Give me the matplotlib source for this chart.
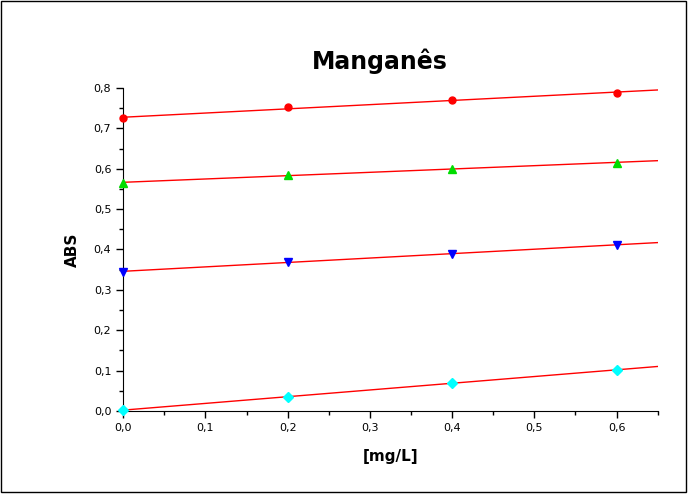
import matplotlib.pyplot as plt
import numpy as np
from matplotlib.ticker import MultipleLocator, FuncFormatter
from matplotlib.patches import Rectangle

# concentration [mg/L]
conc = [0.0, 0.2, 0.4, 0.6]

# absorbance series
abs_red = [0.725, 0.752, 0.771, 0.788]
abs_green = [0.565, 0.585, 0.600, 0.615]
abs_blue = [0.345, 0.370, 0.388, 0.412]
abs_cyan = [0.002, 0.035, 0.068, 0.102]

series = [
    (abs_red, 'red', 'o', 5),
    (abs_green, '#00dd00', '^', 6),
    (abs_blue, 'blue', 'v', 6),
    (abs_cyan, 'cyan', 'D', 5),
]

fig = plt.figure(figsize=(6.88, 4.95), dpi=100)
ax = fig.add_axes([0.179, 0.170, 0.777, 0.652])

xfit = np.array([0.0, 0.65])
x = np.array(conc)
for yv, col, mk, ms in series:
    y = np.array(yv)
    slope, inter = np.polyfit(x, y, 1)
    ax.plot(xfit, slope * xfit + inter, color='red', lw=1.0, zorder=2)
    ax.plot(x, y, linestyle='none', marker=mk, color=col, ms=ms, zorder=3,
            clip_on=False)

ax.set_xlim(0, 0.65)
ax.set_ylim(0, 0.8)
ax.spines['top'].set_visible(False)
ax.spines['right'].set_visible(False)
ax.xaxis.set_major_locator(MultipleLocator(0.1))
ax.xaxis.set_minor_locator(MultipleLocator(0.05))
ax.yaxis.set_major_locator(MultipleLocator(0.1))
ax.yaxis.set_minor_locator(MultipleLocator(0.05))
comma = FuncFormatter(lambda v, p: f"{v:.1f}".replace('.', ','))
ax.xaxis.set_major_formatter(comma)
ax.yaxis.set_major_formatter(comma)
ax.tick_params(which='major', direction='out', length=5, width=1, labelsize=8)
ax.tick_params(which='minor', direction='out', length=3, width=1)

ax.set_title('Manganês', fontsize=17, fontweight='bold', pad=14, x=0.48)
ax.set_xlabel('[mg/L]', fontsize=11, fontweight='bold', labelpad=12)
ax.set_ylabel('ABS', fontsize=11, fontweight='bold', labelpad=10)

fig.patches.append(Rectangle((0.001, 0.006), 0.996, 0.992, transform=fig.transFigure,
                             fill=False, edgecolor='black', lw=1))

fig.savefig('out.png', dpi=100)
